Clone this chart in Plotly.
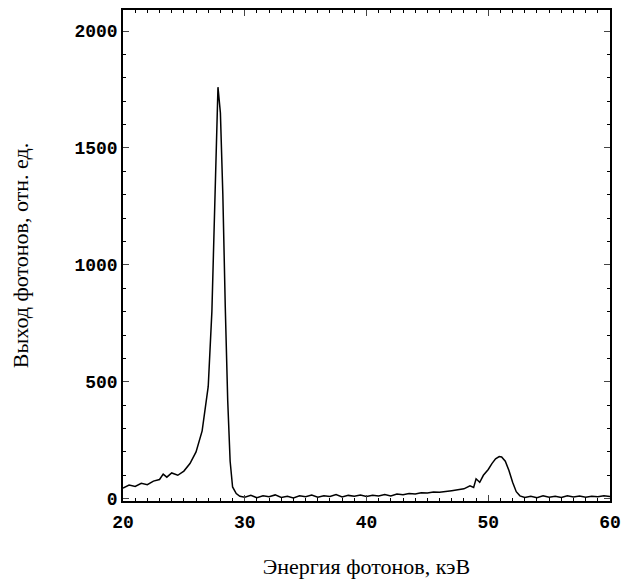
import plotly.graph_objects as go

energy = [20, 20.5, 21, 21.5, 22, 22.5, 23, 23.3, 23.6, 24, 24.5, 25, 25.5, 26, 26.5, 27, 27.3, 27.6, 27.8,
          28.0, 28.2, 28.4, 28.6, 28.8, 29, 29.3, 29.6, 30, 30.5, 31, 31.5, 32, 32.5, 33, 33.5, 34, 34.5,
          35, 35.5, 36, 36.5, 37, 37.5, 38, 38.5, 39, 39.5, 40, 40.5, 41, 41.5, 42, 42.5, 43, 43.5, 44,
          44.5, 45, 45.5, 46, 46.5, 47, 47.5, 48, 48.5, 48.8, 49, 49.3, 49.6, 50, 50.3, 50.6, 50.9, 51.1,
          51.4, 51.7, 52, 52.3, 52.6, 53, 53.5, 54, 54.5, 55, 55.5, 56, 56.5, 57, 57.5, 58, 58.5, 59, 59.5, 60]
counts = [45, 58, 52, 66, 60, 75, 82, 105, 92, 110, 100, 118, 150, 200, 290, 480, 800, 1400, 1760,
          1650, 1300, 820, 420, 160, 50, 22, 10, 6, 14, 4, 12, 8, 16, 5, 10, 3, 12,
          8, 15, 6, 12, 9, 18, 7, 14, 10, 16, 9, 15, 11, 18, 12, 20, 17, 22, 20,
          25, 24, 28, 27, 32, 34, 38, 42, 55, 48, 85, 70, 100, 125, 150, 170, 180, 178,
          160, 120, 70, 30, 12, 5, 10, 4, 12, 6, 10, 5, 12, 7, 11, 6, 10, 8, 12, 9]

fig = go.Figure()
fig.add_trace(go.Scatter(x=energy, y=counts, mode='lines', line=dict(color='black', width=1.5)))

tickfont = dict(family="Liberation Mono", size=18, color="black", weight="bold")
titlefont = dict(family="Liberation Serif", size=22, color="black")
fig.update_layout(width=644, height=583, showlegend=False,
                  plot_bgcolor='white', paper_bgcolor='white',
                  margin=dict(l=115, r=42, t=2, b=90))
fig.update_xaxes(range=[20, 60], tickvals=[20, 30, 40, 50, 60], ticks='inside', ticklen=6,
                 minor=dict(dtick=1, ticks='inside', ticklen=3, tickcolor='black'),
                 showline=True, linecolor='black', linewidth=1.5, mirror='ticks', showgrid=False,
                 tickfont=tickfont, zeroline=False, automargin=False, ticklabelstandoff=4,
                 title=dict(text="Энергия фотонов, кэВ", font=titlefont, standoff=26))
fig.update_yaxes(range=[-10, 2090], tickvals=[0, 500, 1000, 1500, 2000], ticks='inside', ticklen=6,
                 minor=dict(dtick=100, ticks='inside', ticklen=3, tickcolor='black'),
                 showline=True, linecolor='black', linewidth=1.5, mirror='ticks', showgrid=False,
                 tickfont=tickfont, zeroline=False, automargin=False,
                 title=dict(text="Выход фотонов, отн. ед.", font=titlefont, standoff=40))
fig.write_html("out.html")
